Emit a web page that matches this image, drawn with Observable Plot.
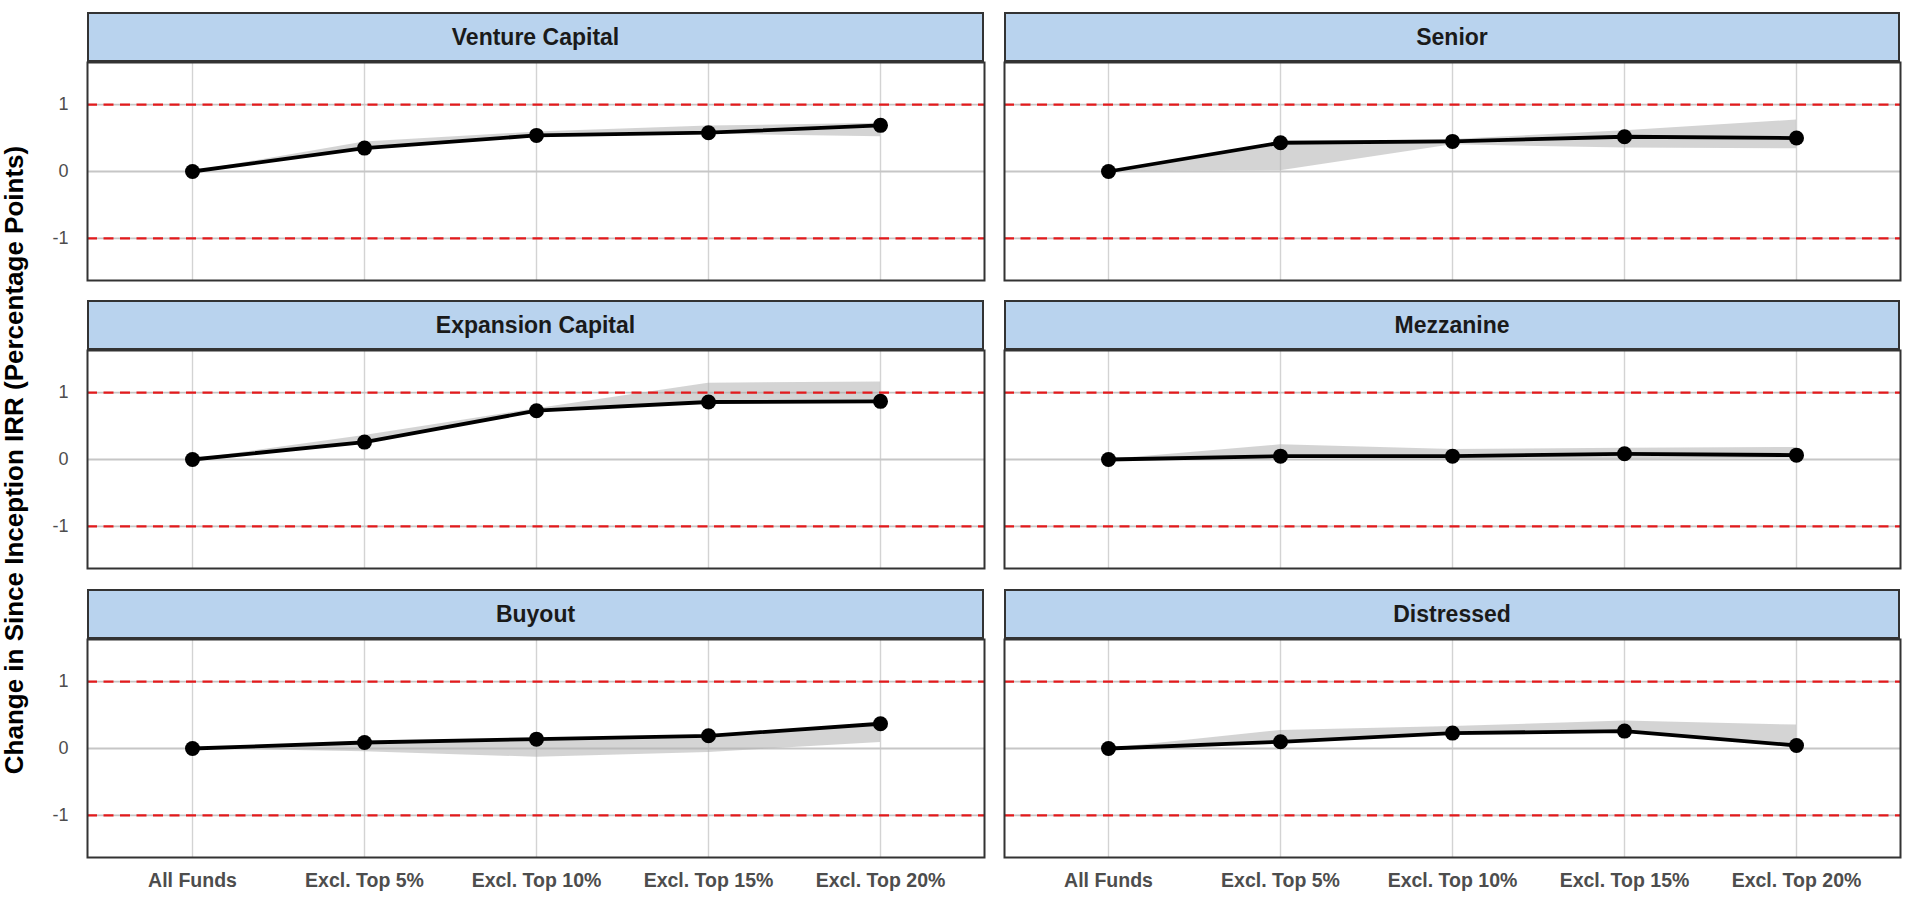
<!DOCTYPE html>
<html>
<head>
<meta charset="utf-8">
<script src="https://cdn.jsdelivr.net/npm/d3@7"></script>
<script src="https://cdn.jsdelivr.net/npm/@observablehq/plot@0.6"></script>
<style>
  html, body { margin: 0; padding: 0; background: #ffffff; }
  #root { position: relative; width: 1911px; height: 900px; overflow: hidden; font-family: "Liberation Sans", Arial, Helvetica, sans-serif; }
  .strip { position: absolute; box-sizing: border-box; height: 50px; border: 2px solid #333333; background: #B9D3EE;
           display: flex; align-items: center; justify-content: center; font-weight: bold; font-size: 23px; color: #1a1a1a; }
  .panel { position: absolute; }
  .panel svg { overflow: visible; }
  .ytitle { position: absolute; width: 900px; height: 30px; line-height: 30px; text-align: center; font-weight: bold;
            font-size: 26px; color: #000; transform: rotate(-90deg); transform-origin: 50% 50%; white-space: nowrap; }
  [aria-label="x-axis tick label"] text { font-weight: bold; }
</style>
</head>
<body>
<div id="root"></div>
<script>
// ---- Data ----
const categories = ["All Funds", "Excl. Top 5%", "Excl. Top 10%", "Excl. Top 15%", "Excl. Top 20%"];
const strategies = ["Venture Capital", "Senior", "Expansion Capital", "Mezzanine", "Buyout", "Distressed"];

const ventureEst   = [0, 0.35, 0.54, 0.58, 0.69];
const ventureLo    = [0, 0.33, 0.52, 0.56, 0.52];
const ventureHi    = [0, 0.44, 0.59, 0.68, 0.72];

const seniorEst    = [0, 0.43, 0.45, 0.52, 0.50];
const seniorLo     = [0, 0.01, 0.40, 0.35, 0.34];
const seniorHi     = [0, 0.43, 0.48, 0.61, 0.77];

const expansionEst = [0, 0.26, 0.73, 0.86, 0.87];
const expansionLo  = [0, 0.24, 0.72, 0.84, 0.85];
const expansionHi  = [0, 0.36, 0.76, 1.14, 1.16];

const mezzEst      = [0, 0.05, 0.05, 0.085, 0.065];
const mezzLo       = [0, 0.02, -0.01, 0.00, 0.02];
const mezzHi       = [0, 0.22, 0.15, 0.17, 0.18];

const buyoutEst    = [0, 0.09, 0.14, 0.19, 0.37];
const buyoutLo     = [0, -0.05, -0.13, -0.06, 0.09];
const buyoutHi     = [0, 0.09, 0.14, 0.19, 0.34];

const distressEst  = [0, 0.10, 0.23, 0.26, 0.045];
const distressLo   = [0, 0.09, 0.22, 0.25, 0.04];
const distressHi   = [0, 0.27, 0.33, 0.41, 0.35];

const yTicks = [-1, 0, 1];
const refLines = [-1, 1];

const series = [
  [ventureEst, ventureLo, ventureHi],
  [seniorEst, seniorLo, seniorHi],
  [expansionEst, expansionLo, expansionHi],
  [mezzEst, mezzLo, mezzHi],
  [buyoutEst, buyoutLo, buyoutHi],
  [distressEst, distressLo, distressHi]
];

// ---- Layout ----
const colLeft = [87, 1004];
const colWidth = [897, 896];
const stripTop = [12, 300, 589];
const stripH = 50;
const plotH = 218;
const root = document.getElementById("root");

strategies.forEach((name, i) => {
  const r = Math.floor(i / 2), c = i % 2;
  const [est, lo, hi] = series[i];
  const data = categories.map((cat, k) => ({cat, est: est[k], lo: lo[k], hi: hi[k]}));
  const showY = c === 0, showX = r === 2;
  const mL = showY ? colLeft[c] : 2, mR = 2, mT = 2, mB = showX ? 44 : 2;

  const chart = Plot.plot({
    width: mL + colWidth[c] + mR,
    height: mT + plotH + mB,
    marginLeft: mL, marginRight: mR, marginTop: mT, marginBottom: mB,
    style: {fontFamily: '"Liberation Sans", Arial, Helvetica, sans-serif', background: "transparent", overflow: "visible"},
    x: {type: "point", domain: categories, padding: 0.6, axis: null, label: null},
    y: {domain: [-1.63, 1.63], axis: null, label: null},
    marks: [
      Plot.ruleX(categories, {stroke: "#d3d3d3", strokeWidth: 1.4}),
      Plot.ruleY(yTicks, {stroke: "#c6c6c6", strokeWidth: 1.9}),
      Plot.areaY(data, {x: "cat", y1: "lo", y2: "hi", fill: "#b0b0b0", fillOpacity: 0.55}),
      Plot.ruleY(refLines, {stroke: "#e31a1c", strokeWidth: 2.4, strokeDasharray: "10,6.5"}),
      Plot.line(data, {x: "cat", y: "est", stroke: "#000", strokeWidth: 3.8}),
      Plot.dot(data, {x: "cat", y: "est", r: 7.5, fill: "#000", stroke: null}),
      Plot.frame({stroke: "#333333", strokeWidth: 2}),
      showY ? Plot.axisY({ticks: yTicks, tickSize: 0, tickPadding: 19, fontSize: 18, color: "#4d4d4d", label: null, tickFormat: d => String(d)}) : null,
      showX ? Plot.axisX({tickSize: 0, tickPadding: 16, fontSize: 19.5, fontWeight: "bold", color: "#4d4d4d", label: null}) : null
    ]
  });

  const wrap = document.createElement("div");
  wrap.className = "panel";
  wrap.style.left = (colLeft[c] - mL) + "px";
  wrap.style.top = (stripTop[r] + stripH - mT) + "px";
  wrap.appendChild(chart);
  root.appendChild(wrap);

  const strip = document.createElement("div");
  strip.className = "strip";
  strip.style.left = colLeft[c] + "px";
  strip.style.top = stripTop[r] + "px";
  strip.style.width = colWidth[c] + "px";
  strip.textContent = name;
  root.appendChild(strip);
});

const yt = document.createElement("div");
yt.className = "ytitle";
yt.textContent = "Change in Since Inception IRR (Percentage Points)";
yt.style.left = (14 - 450) + "px";
yt.style.top = (460 - 15) + "px";
root.appendChild(yt);
</script>
</body>
</html>
